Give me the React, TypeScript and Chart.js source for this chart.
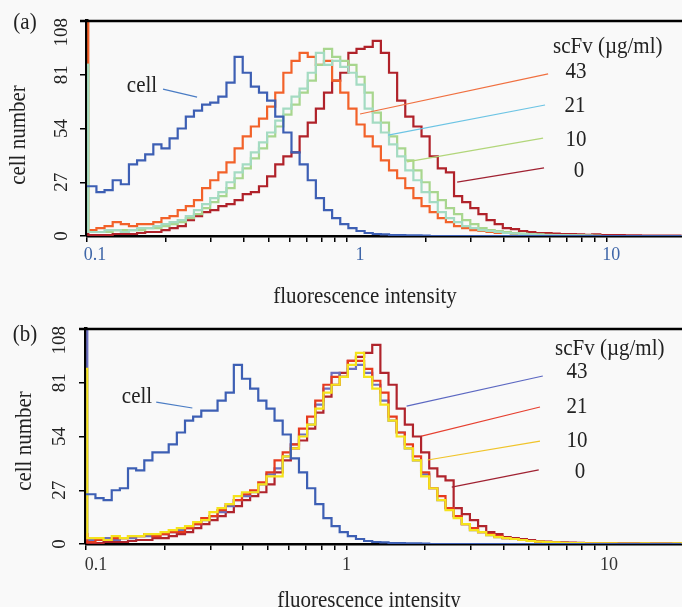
import { useEffect, useRef } from "react";
import { Chart, registerables } from "chart.js";

Chart.register(...registerables);

// ---------- axes ----------
const yTicks = [0, 27, 54, 81, 108];
const xTickMarks = [0.1, 0.2, 0.3, 0.4, 0.5, 0.6, 0.7, 0.8, 0.9, 1, 2, 3, 4, 5, 6, 7, 8, 9, 10];
const xTickLabels = [0.1, 1, 10];
const X_MIN = 0.1;
const X_MAX = 19.4;
const Y_MAX = 108;
const BINS_PER_DECADE = 32; // 2 channels of a 64-channel/decade histogram
const concentrations = ["43", "21", "10", "0"];

// ---------- panel (a) histograms: first value = first (lowest) channel ----------
const cellA = [25,
  25, 22, 23, 28, 26, 36, 38, 41, 46, 44,
  49, 54, 60, 63, 66, 67, 70, 77, 90, 82,
  75, 72, 68, 60, 52, 42, 36, 28, 19, 13,
  9, 6, 4, 2.5, 1.5, 1, 0.8, 0.5, 0.5, 0.3,
  0.3, 0.2, 0, 0, 0, 0, 0, 0, 0, 0,
  0, 0, 0, 0, 0, 0, 0, 0, 0, 0,
  0, 0, 0, 0, 0, 0, 0, 0, 0, 0,
  0, 0, 0, 0];
const scfv43A = [112,
  3, 4, 5, 7, 6, 5, 6, 6, 7, 9,
  10, 13, 15, 18, 24, 28, 32, 37, 44, 50,
  55, 59, 65, 72, 82, 88, 92, 90, 86, 88,
  78, 72, 64, 56, 50, 45, 38, 33, 29, 24,
  19, 15, 12, 9, 7, 5, 4, 3, 2.5, 2,
  1.5, 1.5, 1, 0.8, 0.6, 0.5, 0.5, 0.3, 0.3, 0.2,
  0.2, 0, 0, 0, 0, 0, 0, 0, 0, 0,
  0, 0, 0, 0];
const scfv21A = [86,
  2, 2, 3, 3, 2, 3, 4, 4, 5, 6,
  7, 8, 10, 13, 16, 19, 22, 27, 32, 36,
  42, 47, 52, 58, 64, 70, 74, 82, 92, 86,
  88, 85, 82, 76, 64, 57, 52, 46, 40, 33,
  28, 22, 17, 12, 9, 7, 5, 4, 3, 2.5,
  2, 1.5, 1.2, 1, 0.8, 0.6, 0.5, 0.4, 0.3, 0.3,
  0.2, 0.2, 0, 0, 0, 0, 0, 0, 0, 0,
  0, 0, 0, 0];
const scfv10A = [86,
  2, 2, 2, 3, 3, 3, 3, 4, 4, 5,
  6, 7, 9, 11, 14, 17, 20, 24, 29, 34,
  39, 44, 50, 55, 61, 66, 72, 78, 86, 94,
  90, 88, 86, 80, 72, 62, 57, 50, 44, 38,
  33, 27, 22, 18, 14, 11, 8, 6, 4, 3,
  2.5, 2, 1.5, 1.2, 1, 0.8, 0.6, 0.5, 0.4, 0.3,
  0.3, 0.2, 0.2, 0, 0, 0, 0, 0, 0, 0,
  0, 0, 0, 0];
const scfv0A = [3,
  0.5, 0.5, 0.5, 1, 1, 1, 1.5, 2, 2, 3,
  4, 5, 8, 10, 12, 13, 15, 16, 18, 21,
  22, 25, 30, 36, 40, 42, 50, 57, 64, 72,
  78, 82, 92, 94, 95, 98, 92, 82, 68, 60,
  55, 50, 40, 34, 32, 20, 17, 14, 11, 8,
  6, 4, 3.5, 2.5, 2, 1.5, 1.5, 1.2, 1, 1,
  0.8, 0.6, 0.8, 0.5, 0.4, 0.5, 0.3, 0.3, 0.2, 0.2,
  0.2, 0.2, 0.2, 0.2];

// ---------- panel (b) histograms ----------
const cellB = [25,
  25, 23, 22, 27, 28, 38, 37, 42, 46, 46,
  50, 56, 62, 64, 67, 67, 72, 76, 90, 83,
  78, 72, 68, 62, 55, 43, 36, 28, 20, 13,
  9, 6, 4, 2.5, 1.5, 1, 0.8, 0.5, 0.5, 0.3,
  0.3, 0.2, 0, 0, 0, 0, 0, 0, 0, 0,
  0, 0, 0, 0, 0, 0, 0, 0, 0, 0,
  0, 0, 0, 0, 0, 0, 0, 0, 0, 0,
  0, 0, 0, 0];
const scfv43B = [112,
  2, 2, 3, 2, 3, 3, 4, 4, 5, 5,
  6, 7, 8, 10, 12, 14, 16, 19, 22, 24,
  26, 30, 35, 38, 44, 50, 55, 60, 70, 78,
  86, 84, 88, 90, 86, 80, 72, 62, 56, 48,
  42, 35, 28, 22, 18, 14, 10, 7, 6, 4.5,
  3.5, 3, 2.5, 2, 1.5, 1.2, 1, 0.8, 0.6, 0.5,
  0.4, 0.3, 0.3, 0.3, 0.2, 0.2, 0.2, 0.2, 0.2, 0.2,
  0.2, 0.2, 0.2, 0.2];
const scfv21B = [5,
  1, 2, 2, 3, 3, 4, 4, 5, 4, 5,
  6, 6, 8, 10, 13, 14, 17, 20, 22, 25,
  27, 31, 36, 42, 46, 50, 58, 64, 72, 80,
  84, 84, 92, 92, 88, 82, 76, 64, 56, 50,
  44, 36, 28, 24, 18, 14, 10, 8, 6, 5,
  4, 3, 2.5, 2, 1.5, 1.2, 1, 0.8, 0.6, 0.5,
  0.4, 0.4, 0.3, 0.3, 0.3, 0.2, 0.2, 0.2, 0.2, 0.2,
  0.2, 0.2, 0.2, 0.2];
const scfv10B = [88,
  3, 3, 2, 4, 3, 4, 4, 5, 5, 6,
  7, 8, 9, 11, 12, 16, 18, 20, 24, 26,
  26, 30, 34, 34, 44, 48, 54, 60, 68, 76,
  80, 84, 90, 96, 84, 78, 70, 62, 54, 48,
  42, 34, 28, 22, 17, 13, 10, 7, 6, 4.5,
  3.5, 3, 2.5, 2, 1.5, 1.2, 1, 0.8, 0.6, 0.5,
  0.4, 0.3, 0.3, 0.3, 0.3, 0.2, 0.2, 0.2, 0.3, 0.2,
  0.2, 0.2, 0.3, 0.2];
const scfv0B = [3,
  0.5, 0.5, 1, 1, 1, 1.5, 2, 2, 3, 3,
  4, 5, 6, 8, 10, 12, 14, 16, 19, 22,
  24, 26, 30, 36, 42, 48, 52, 58, 66, 74,
  80, 86, 92, 94, 96, 100, 86, 80, 68, 60,
  54, 46, 38, 34, 32, 18, 15, 12, 9, 6,
  5, 3.5, 3, 2.5, 2, 1.5, 1.2, 1, 0.8, 0.7,
  0.6, 0.5, 0.5, 0.4, 0.4, 0.3, 0.3, 0.3, 0.2, 0.2,
  0.2, 0.2, 0.2, 0.2];

// ---------- leader lines (data coordinates: [intensity, cell number]) ----------
type Leader = { from: [number, number]; to: [number, number]; color: string };
const leadersA: Leader[] = [
  { from: [0.196, 73.8], to: [0.265, 69.8], color: "#4a7cc4" },
  { from: [5.93, 81.4], to: [1.122, 61.3], color: "#f07040" },
  { from: [5.77, 65.8], to: [1.438, 50.7], color: "#6cc4e4" },
  { from: [5.67, 49.2], to: [1.701, 37.2], color: "#b2d67a" },
  { from: [5.72, 34.2], to: [2.65, 27.1], color: "#a02232" },
];
const leadersB: Leader[] = [
  { from: [0.186, 71.3], to: [0.256, 68.3], color: "#4a7cc4" },
  { from: [5.67, 84.4], to: [1.701, 69.3], color: "#5c68c2" },
  { from: [5.53, 68.8], to: [1.942, 54.2], color: "#e64030" },
  { from: [5.53, 51.7], to: [2.049, 42.2], color: "#f0c42a" },
  { from: [5.47, 37.2], to: [2.535, 28.6], color: "#a02232" },
];

const FONT = '"Liberation Serif", "Times New Roman", serif';

type TextItem = { text: string; x: number; y: number; align?: CanvasTextAlign; rotate?: boolean; size?: number; color?: string };
type Series = { label: string; values: number[]; color: string };
type PanelSpec = {
  height: number;
  top: number;
  bottom: number;
  left: number;
  series: Series[];
  leaders: Leader[];
  texts: TextItem[];
  xLabelColor: string;
  xLabelOffsets: number[];
  xLabelY: number;
  yLabelBaseX: number;
};

function binX(k: number): number {
  return k === 0 ? X_MIN : X_MIN * Math.pow(10, 0.005 + (k - 1) / BINS_PER_DECADE);
}

function drawText(ctx: CanvasRenderingContext2D, t: TextItem) {
  ctx.save();
  ctx.font = `${t.size ?? 21}px ${FONT}`;
  ctx.fillStyle = t.color ?? "#222";
  ctx.textAlign = t.align ?? "center";
  ctx.textBaseline = "middle";
  ctx.translate(t.x, t.y);
  if (t.rotate) ctx.rotate(-Math.PI / 2);
  ctx.scale(1, 1.1);
  ctx.fillText(t.text, 0, 0);
  ctx.restore();
}

function makeDecor(spec: PanelSpec) {
  return {
    id: "decor",
    afterDatasetsDraw(chart: any) {
      const { ctx, scales } = chart;
      const xs = scales.x;
      const ys = scales.y;
      ctx.save();
      ctx.lineWidth = 1.2;
      for (const l of spec.leaders) {
        ctx.strokeStyle = l.color;
        ctx.beginPath();
        ctx.moveTo(xs.getPixelForValue(l.from[0]), ys.getPixelForValue(l.from[1]));
        ctx.lineTo(xs.getPixelForValue(l.to[0]), ys.getPixelForValue(l.to[1]));
        ctx.stroke();
      }
      ctx.restore();
    },
    afterDraw(chart: any) {
      const { ctx, scales, chartArea } = chart;
      const xs = scales.x;
      const ys = scales.y;
      // top frame line
      ctx.save();
      ctx.strokeStyle = "#000";
      ctx.lineWidth = 2.5;
      ctx.beginPath();
      ctx.moveTo(chartArea.left - 7, chartArea.top);
      ctx.lineTo(chart.width, chartArea.top);
      ctx.stroke();
      ctx.restore();
      // y tick labels (rotated)
      ctx.save();
      ctx.font = `19px ${FONT}`;
      ctx.fillStyle = "#222";
      ctx.textAlign = "center";
      ctx.textBaseline = "alphabetic";
      for (const v of yTicks) {
        const label = String(v);
        const half = ctx.measureText(label).width / 2;
        const cy = Math.max(ys.getPixelForValue(v), chartArea.top - 3 + half);
        ctx.save();
        ctx.translate(spec.yLabelBaseX, cy);
        ctx.rotate(-Math.PI / 2);
        ctx.fillText(label, 0, 0);
        ctx.restore();
      }
      ctx.restore();
      // x tick labels
      xTickLabels.forEach((v, i) => {
        drawText(ctx, {
          text: String(v),
          x: xs.getPixelForValue(v) + spec.xLabelOffsets[i],
          y: spec.xLabelY,
          size: 18,
          color: spec.xLabelColor,
        });
      });
      for (const t of spec.texts) drawText(ctx, t);
    },
  };
}

function buildConfig(spec: PanelSpec): any {
  return {
    type: "line",
    data: {
      datasets: spec.series.map((s) => ({
        label: s.label,
        data: s.values.map((v, k) => ({ x: binX(k), y: v })),
        borderColor: s.color,
        backgroundColor: s.color,
        borderWidth: 2.2,
        pointRadius: 0,
        stepped: "before",
        fill: false,
        tension: 0,
      })),
    },
    options: {
      responsive: false,
      animation: false,
      devicePixelRatio: 1,
      layout: { padding: { top: spec.top, left: 0, right: 0, bottom: 0 } },
      plugins: { legend: { display: false }, tooltip: { enabled: false } },
      scales: {
        x: {
          type: "logarithmic",
          min: X_MIN,
          max: X_MAX,
          afterBuildTicks: (scale: any) => {
            scale.ticks = xTickMarks.map((v) => ({ value: v }));
          },
          afterFit: (scale: any) => {
            scale.height = spec.height - spec.bottom;
          },
          ticks: { display: false },
          grid: { display: true, drawOnChartArea: false, drawTicks: true, tickLength: 6, color: "#000", lineWidth: 1.5 },
          border: { display: true, color: "#000", width: 2.5 },
        },
        y: {
          type: "linear",
          min: 0,
          max: Y_MAX,
          afterBuildTicks: (scale: any) => {
            scale.ticks = yTicks.map((v) => ({ value: v }));
          },
          afterFit: (scale: any) => {
            scale.width = spec.left;
          },
          ticks: { display: false },
          grid: { display: true, drawOnChartArea: false, drawTicks: true, tickLength: 7, color: "#000", lineWidth: 1.5 },
          border: { display: true, color: "#000", width: 3.5 },
        },
      },
    },
    plugins: [makeDecor(spec)],
  };
}

const panelA: PanelSpec = {
  height: 312,
  top: 21,
  bottom: 236,
  left: 87,
  series: [
    { label: "cell", values: cellA, color: "#3d5fb4" },
    { label: "21", values: scfv21A, color: "#a4dbc2" },
    { label: "10", values: scfv10A, color: "#a8d68e" },
    { label: "43", values: scfv43A, color: "#f2622a" },
    { label: "0", values: scfv0A, color: "#b0222a" },
  ],
  leaders: leadersA,
  xLabelColor: "#3f66a8",
  xLabelOffsets: [8, 13, 4],
  xLabelY: 255,
  yLabelBaseX: 67,
  texts: [
    { text: "(a)", x: 25, y: 23 },
    { text: "cell number", x: 19, y: 135, rotate: true },
    { text: "fluorescence intensity", x: 365, y: 297 },
    { text: "scFv (µg/ml)", x: 553, y: 47, align: "left" },
    { text: concentrations[0], x: 576, y: 72 },
    { text: concentrations[1], x: 575, y: 106 },
    { text: concentrations[2], x: 576, y: 140 },
    { text: concentrations[3], x: 579, y: 171 },
    { text: "cell", x: 142, y: 86 },
  ],
};

const panelB: PanelSpec = {
  height: 307,
  top: 29,
  bottom: 244,
  left: 86,
  series: [
    { label: "cell", values: cellB, color: "#3d5fb4" },
    { label: "10", values: scfv10B, color: "#f5e31c" },
    { label: "21", values: scfv21B, color: "#e63a1e" },
    { label: "43", values: scfv43B, color: "#6b6fbf" },
    { label: "0", values: scfv0B, color: "#b0242c" },
  ],
  leaders: leadersB,
  xLabelColor: "#333",
  xLabelOffsets: [10, 0, 2],
  xLabelY: 265,
  yLabelBaseX: 65,
  texts: [
    { text: "(b)", x: 25, y: 35 },
    { text: "cell number", x: 25, y: 141, rotate: true },
    { text: "fluorescence intensity", x: 369, y: 301 },
    { text: "scFv (µg/ml)", x: 555, y: 49, align: "left" },
    { text: concentrations[0], x: 577, y: 72 },
    { text: concentrations[1], x: 577, y: 107 },
    { text: concentrations[2], x: 577, y: 141 },
    { text: concentrations[3], x: 580, y: 172 },
    { text: "cell", x: 137, y: 97 },
  ],
};

function Panel({ spec, top }: { spec: PanelSpec; top: number }) {
  const ref = useRef<HTMLCanvasElement>(null);
  useEffect(() => {
    const chart = new Chart(ref.current as HTMLCanvasElement, buildConfig(spec));
    return () => chart.destroy();
  }, [spec]);
  return (
    <canvas
      ref={ref}
      width={682}
      height={spec.height}
      style={{ position: "absolute", left: 0, top, width: 682, height: spec.height, display: "block" }}
    />
  );
}

export default function App() {
  return (
    <div style={{ position: "absolute", left: 0, top: 0, width: 682, height: 607, background: "#f9f9f9", overflow: "hidden" }}>
      <Panel spec={panelA} top={0} />
      <Panel spec={panelB} top={300} />
    </div>
  );
}
